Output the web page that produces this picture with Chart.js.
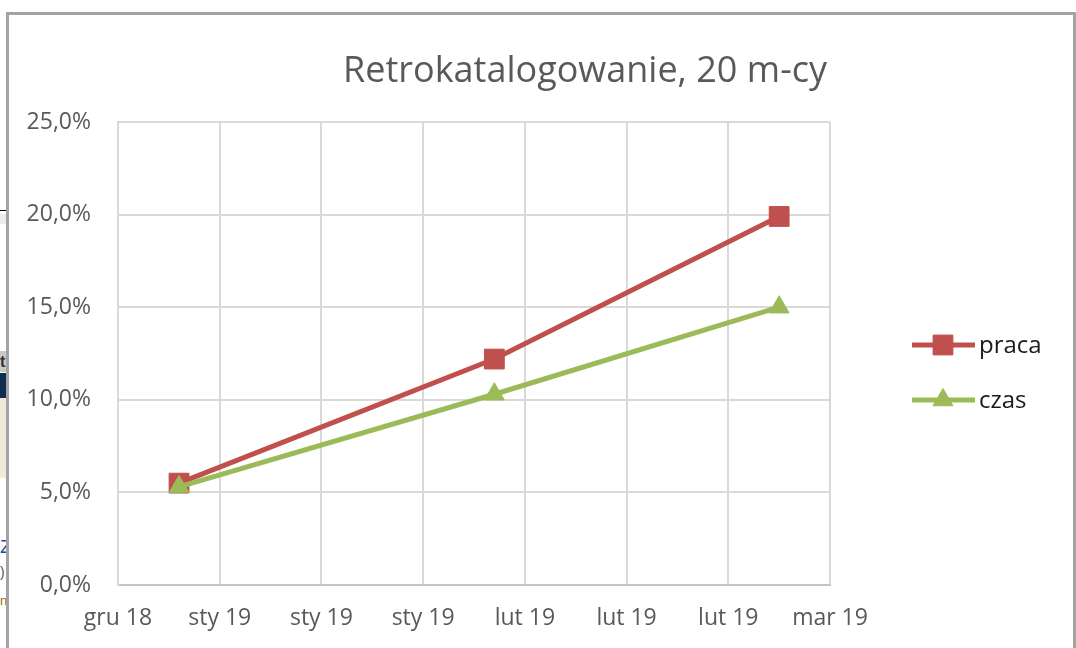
<!DOCTYPE html>
<html>
<head>
<meta charset="utf-8">
<script src="https://cdn.jsdelivr.net/npm/chart.js@4/dist/chart.umd.min.js"></script>
<style>
  html, body { margin: 0; padding: 0; background: #fff; width: 1076px; height: 648px; overflow: hidden; position: relative; font-family: "Open Sans", sans-serif; }
  #frame { position: absolute; left: 6px; top: 12px; width: 1064px; height: 660px; border: 3px solid #a3a3a3; border-bottom: none; background: #fff; }
  #c { position: absolute; left: 0; top: 0; }
  .art { position: absolute; left: 0; width: 6px; overflow: hidden; }
</style>
</head>
<body>
<div class="art" style="top:210px;height:1px;background:#000;width:8px;"></div>
<div class="art" style="top:214px;height:10px;background:#ececec;"></div>
<div class="art" style="top:351px;height:21px;background:#c9c9c9;font:bold 16px 'Liberation Sans';color:#333;line-height:21px;">t</div>
<div class="art" style="top:373px;height:25px;background:#0e2d4f;"></div>
<div class="art" style="top:398px;height:80px;background:#eeebd6;"></div>
<div class="art" style="top:536px;height:22px;font:19px 'Liberation Sans';color:#1f4e9a;">Z</div>
<div class="art" style="top:564px;height:18px;font:14px 'Liberation Sans';color:#555;">)</div>
<div class="art" style="top:593px;height:18px;font:13px 'Liberation Sans';color:#9a6a2a;">ni</div>
<div id="frame"></div>
<canvas id="c" width="1076" height="648"></canvas>
<script>
// ---- data ----
const chartTitle = 'Retrokatalogowanie, 20 m-cy';
const axisStartDate = '2018-12-25';
const pointDates = ['2018-12-31', '2019-01-31', '2019-02-28'];
const seriesNames = ['praca', 'czas'];
const pracaValues = [5.5, 12.2, 19.9];
const czasValues = [5.3, 10.3, 15.0];
const xTickLabels = ['gru 18', 'sty 19', 'sty 19', 'sty 19', 'lut 19', 'lut 19', 'lut 19', 'mar 19'];
const xAxisDays = { min: 0, max: 70, step: 10 };
const yAxisPct = { min: 0, max: 25, step: 5 };

// ---- helpers ----
const dayOffset = d => Math.round((Date.parse(d) - Date.parse(axisStartDate)) / 86400000);
const toPoints = vals => pointDates.map((d, i) => ({ x: dayOffset(d), y: vals[i] }));

const FONT = '"Open Sans", "Noto Sans", sans-serif';
const RED = '#c0504d';
const GREEN = '#9bbb59';

const titlePlugin = {
  id: 'excelTitle',
  afterDraw(chart) {
    const ctx = chart.ctx;
    ctx.save();
    ctx.font = '36px ' + FONT;
    ctx.fillStyle = '#595959';
    ctx.textAlign = 'center';
    ctx.textBaseline = 'middle';
    ctx.fillText(chartTitle, 585, 72);
    ctx.restore();
  }
};

const legendPlugin = {
  id: 'excelLegend',
  afterDraw(chart) {
    const ctx = chart.ctx;
    const rows = [345, 400];
    chart.data.datasets.forEach((ds, i) => {
      const y = rows[i];
      ctx.save();
      ctx.strokeStyle = ds.borderColor;
      ctx.lineWidth = ds.borderWidth;
      ctx.beginPath();
      ctx.moveTo(912, y);
      ctx.lineTo(975, y);
      ctx.stroke();
      ctx.fillStyle = ds.pointBackgroundColor;
      ctx.strokeStyle = ds.pointBorderColor;
      ctx.lineWidth = 1;
      Chart.helpers.drawPoint(ctx, { pointStyle: ds.pointStyle, radius: ds.pointRadius, borderWidth: 1, rotation: 0 }, 943, y);
      ctx.font = '24px ' + FONT;
      ctx.fillStyle = '#1a1a1a';
      ctx.textAlign = 'left';
      ctx.textBaseline = 'middle';
      ctx.fillText(ds.label, 979, y + 1);
      ctx.restore();
    });
  }
};

new Chart(document.getElementById('c'), {
  type: 'line',
  data: {
    datasets: [
      {
        label: seriesNames[0],
        data: toPoints(pracaValues),
        borderColor: RED,
        backgroundColor: RED,
        borderWidth: 5,
        pointStyle: 'rect',
        pointRadius: 14,
        pointBackgroundColor: RED,
        pointBorderColor: RED,
        pointBorderWidth: 1,
        order: 2
      },
      {
        label: seriesNames[1],
        data: toPoints(czasValues),
        borderColor: GREEN,
        backgroundColor: GREEN,
        borderWidth: 5,
        pointStyle: 'triangle',
        pointRadius: 11.5,
        pointBackgroundColor: GREEN,
        pointBorderColor: GREEN,
        pointBorderWidth: 1,
        order: 1
      }
    ]
  },
  options: {
    responsive: false,
    animation: false,
    devicePixelRatio: 1,
    layout: { padding: { left: 0, right: 246, top: 122, bottom: 0 } },
    plugins: {
      legend: { display: false },
      title: { display: false },
      tooltip: { enabled: false }
    },
    scales: {
      x: {
        type: 'linear',
        min: xAxisDays.min,
        max: xAxisDays.max,
        afterFit(scale) { scale.height = 63; },
        ticks: {
          stepSize: xAxisDays.step,
          autoSkip: false,
          maxRotation: 0,
          padding: 20,
          color: '#595959',
          font: { family: FONT, size: 23 },
          callback: (v, i) => xTickLabels[i]
        },
        grid: { color: '#d9d9d9', lineWidth: 2, drawTicks: false },
        border: { color: '#c4c4c4', width: 2 }
      },
      y: {
        min: yAxisPct.min,
        max: yAxisPct.max,
        afterFit(scale) { scale.width = 118; },
        ticks: {
          stepSize: yAxisPct.step,
          padding: 27,
          color: '#595959',
          font: { family: FONT, size: 23 },
          callback: v => v.toFixed(1).replace('.', ',') + '%'
        },
        grid: { color: '#d9d9d9', lineWidth: 2, drawTicks: false },
        border: { color: '#d9d9d9', width: 2 }
      }
    }
  },
  plugins: [titlePlugin, legendPlugin]
});
</script>
</body>
</html>
